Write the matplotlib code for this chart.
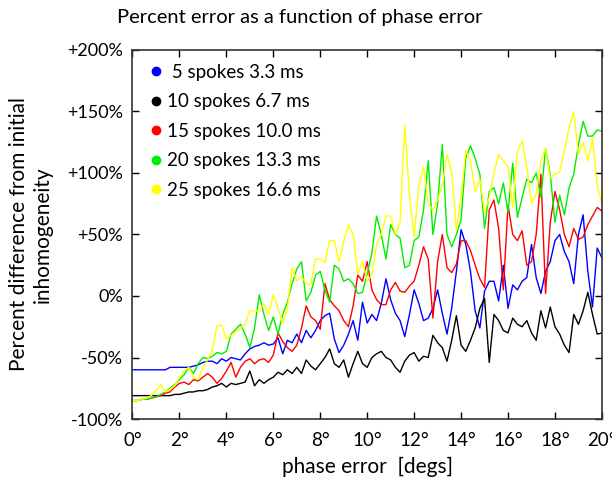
import matplotlib
matplotlib.use("Agg")
import matplotlib.pyplot as plt
from matplotlib.lines import Line2D
import numpy as np

plt.rcParams["font.family"] = ["Lato", "DejaVu Sans"]

# phase error in degrees, one sample every 0.2 deg
phase = [round(0.2 * i, 1) for i in range(101)]

# percent difference from initial inhomogeneity
sp5 = [-60, -60, -60, -60, -60, -60, -60, -60, -58, -58,
       -58, -58, -58, -57, -56, -54, -53, -53, -55, -51,
       -53, -50, -51, -52, -47, -43, -41, -40, -38, -40,
       -39, -34, -47, -36, -38, -31, -38, -28, -34, -28,
       -20, -16, -14, -35, -46, -40, -31, -20, -36, -5,
       -22, -15, -20, -6, 14, -3, -14, -20, -33, -15,
       5, -6, -20, -18, -10, 5, -14, -31, -10, 20,
       54, 42, 20, -12, -26, 4, 12, 12, -4, 25,
       -10, 9, 5, 12, 15, 42, 15, 2, 20, 28,
       45, 50, 36, 28, 10, 50, 66, 20, -9, 39,
       31]
sp10 = [-81, -81, -81, -81, -81, -81, -81, -81, -81, -80,
        -80, -79, -78, -78, -77, -77, -76, -74, -73, -71,
        -74, -71, -72, -71, -70, -61, -73, -68, -71, -68,
        -66, -62, -64, -60, -63, -58, -63, -52, -57, -60,
        -55, -50, -43, -55, -58, -52, -66, -55, -45, -55,
        -58, -50, -47, -45, -50, -52, -58, -62, -53, -48,
        -46, -53, -49, -50, -32, -38, -42, -53, -36, -16,
        -40, -45, -36, -26, -10, -2, -54, -15, -20, -28,
        -30, -18, -23, -25, -20, -30, -36, -12, -26, -9,
        -25, -31, -40, -46, -15, -23, -12, 3, -15, -31,
        -30]
sp15 = [-85, -85, -84, -84, -83, -82, -81, -79, -78, -74,
        -71, -70, -72, -68, -69, -66, -63, -66, -71, -67,
        -61, -54, -66, -58, -53, -51, -55, -52, -51, -54,
        -48, -30, -37, -42, -45, -40, -26, -8, -17, -20,
        -27, 10, -3, -8, -12, -20, -25, -8, 17, 12,
        28, 5, -3, -7, -7, 5, 11, 4, 3, 8,
        12, 25, 40, 30, -18, 28, 50, 23, 19, 26,
        45, 45, 37, 25, 14, 7, 70, 78, 55, 5,
        74, 50, 45, 53, 25, 28, 50, 99, 2, 60,
        85, 70, 50, 40, 55, 46, 48, 58, 65, 72,
        69]
sp20 = [-85, -85, -84, -84, -83, -82, -80, -78, -75, -72,
        -68, -64, -58, -63, -55, -50, -51, -49, -46, -47,
        -45, -31, -27, -23, -31, -42, -26, 1, -15, -28,
        -17, -31, -15, -5, 10, 22, 28, -4, 3, 17,
        20, 5, -5, 25, 22, 12, 14, 10, 2, 3,
        18, 35, 65, 50, 30, 58, 50, 47, 23, 25,
        45, 48, 70, 110, 50, 75, 123, 50, 40, 50,
        62, 112, 122, 112, 99, 55, 85, 88, 75, 92,
        68, 108, 64, 80, 95, 92, 100, 80, 120, 99,
        60, 82, 66, 88, 99, 123, 142, 130, 130, 135,
        134]
sp25 = [-85, -85, -84, -83, -81, -77, -72, -78, -76, -73,
        -66, -61, -58, -66, -68, -58, -52, -44, -24, -24,
        -35, -32, -29, -26, -23, -12, -12, -12, -6, -15,
        1, -10, -22, -10, 23, 12, 16, 10, 9, 30,
        30, 27, 45, 45, 28, 44, 58, 50, 18, 28,
        12, 17, 42, 50, 65, 65, 50, 60, 139, 82,
        48, 90, 105, 75, 70, 78, 90, 115, 100, 53,
        80, 118, 110, 85, 95, 68, 80, 100, 115, 110,
        105, 72, 118, 126, 105, 75, 83, 110, 120, 96,
        99, 101, 118, 137, 150, 115, 125, 110, 128, 90,
        75]

series = [sp5, sp10, sp15, sp20, sp25]
labels = [" 5 spokes 3.3 ms", "10 spokes 6.7 ms", "15 spokes 10.0 ms",
          "20 spokes 13.3 ms", "25 spokes 16.6 ms"]
colors = ["#0000ff", "#000000", "#ff0000", "#00ee00", "#ffff00"]

y_ticks = [-100, -50, 0, 50, 100, 150, 200]
y_ticklabels = ["-100%", "-50%", "0%", "+50%", "+100%", "+150%", "+200%"]
x_ticks = list(range(0, 21, 2))
x_ticklabels = ["%d\u00b0" % v for v in x_ticks]

fig = plt.figure(figsize=(6.12, 4.83), dpi=100)
ax = fig.add_axes([0.2165, 0.1325, 0.767, 0.764])

for s, c in zip(series, colors):
    ax.plot(phase, s, color=c, linewidth=1.0)

ax.set_xlim(0, 20)
ax.set_ylim(-100, 200)
ax.set_xticks(x_ticks)
ax.set_xticklabels(x_ticklabels, fontsize=13.5)
ax.set_yticks(y_ticks)
ax.set_yticklabels(y_ticklabels, fontsize=13)
ax.tick_params(axis="y", direction="in", right=True, length=5, width=1, pad=7)
ax.tick_params(axis="x", direction="in", top=True, length=5, width=1, pad=9)
for sp in ax.spines.values():
    sp.set_linewidth(1.2)
    sp.set_color("#333333")

fig.text(0.49, 0.963, "Percent error as a function of phase error",
         fontsize=14.5, ha="center", va="center")
ax.set_xlabel("phase error  [degs]", fontsize=15, labelpad=6)
ax.set_ylabel("Percent difference from initial\ninhomogeneity", fontsize=15,
              labelpad=10, linespacing=1.25)

handles = [Line2D([], [], linestyle="none", marker="o", markersize=6,
                  color=c) for c in colors]
ax.legend(handles, labels, loc="upper left", frameon=False, fontsize=13.5,
          handletextpad=0.1, labelspacing=0.66, borderaxespad=0.35,
          handlelength=1.0)

fig.savefig("out.png", dpi=100)
